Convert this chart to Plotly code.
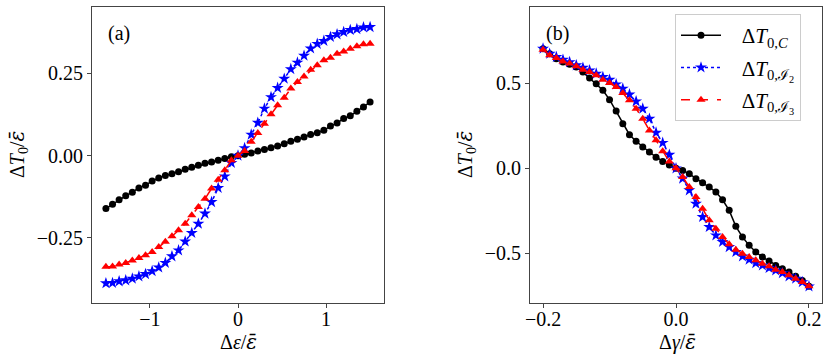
import numpy as np
import plotly.graph_objects as go
from plotly.subplots import make_subplots

# x grids
d_eps = np.linspace(-1.5, 1.5, 41)
d_gamma = np.linspace(-0.2, 0.2, 41)

# panel (a): dT0/eps vs d_eps
a_C = [-0.161, -0.148, -0.134, -0.122, -0.111, -0.098, -0.090, -0.077, -0.068, -0.060,
       -0.055, -0.049, -0.041, -0.035, -0.029, -0.023, -0.019, -0.014, -0.009, -0.003,
       0.000,
       0.004, 0.008, 0.014, 0.019, 0.024, 0.029, 0.036, 0.044, 0.050, 0.057,
       0.064, 0.070, 0.077, 0.090, 0.099, 0.113, 0.121, 0.135, 0.148, 0.163]
a_I2 = [-0.388, -0.387, -0.382, -0.379, -0.374, -0.367, -0.360, -0.351, -0.340, -0.326,
        -0.306, -0.288, -0.261, -0.235, -0.207, -0.176, -0.141, -0.098, -0.063, -0.022,
        0.000,
        0.023, 0.064, 0.100, 0.143, 0.178, 0.206, 0.234, 0.263, 0.283, 0.304,
        0.326, 0.340, 0.349, 0.361, 0.369, 0.376, 0.382, 0.385, 0.390, 0.391]
a_I3 = [-0.338, -0.337, -0.331, -0.326, -0.319, -0.311, -0.303, -0.293, -0.278, -0.262,
        -0.245, -0.227, -0.207, -0.181, -0.156, -0.131, -0.100, -0.073, -0.044, -0.014,
        0.000,
        0.014, 0.042, 0.069, 0.097, 0.126, 0.153, 0.176, 0.204, 0.224, 0.241,
        0.261, 0.275, 0.290, 0.298, 0.310, 0.317, 0.325, 0.333, 0.339, 0.340]

# panel (b): dT0/eps vs d_gamma
b_C = [0.704, 0.674, 0.645, 0.625, 0.612, 0.596, 0.566, 0.531, 0.498, 0.459,
       0.404, 0.337, 0.263, 0.198, 0.159, 0.125, 0.096, 0.066, 0.041, 0.020,
       0.000,
       -0.012, -0.032, -0.061, -0.085, -0.110, -0.139, -0.185, -0.247, -0.341, -0.404,
       -0.453, -0.492, -0.522, -0.545, -0.571, -0.590, -0.610, -0.635, -0.659, -0.694]
b_I2 = [0.704, 0.674, 0.655, 0.639, 0.625, 0.606, 0.592, 0.576, 0.557, 0.537,
        0.521, 0.494, 0.469, 0.435, 0.394, 0.351, 0.292, 0.210, 0.150, 0.080,
        0.000,
        -0.060, -0.129, -0.208, -0.286, -0.345, -0.394, -0.433, -0.463, -0.492, -0.518,
        -0.537, -0.557, -0.571, -0.586, -0.600, -0.616, -0.635, -0.649, -0.669, -0.694]
b_I3 = [0.698, 0.665, 0.649, 0.629, 0.616, 0.600, 0.580, 0.566, 0.547, 0.521,
        0.502, 0.478, 0.443, 0.400, 0.351, 0.292, 0.223, 0.165, 0.100, 0.040,
        0.000,
        -0.051, -0.110, -0.169, -0.237, -0.306, -0.355, -0.404, -0.447, -0.479, -0.502,
        -0.522, -0.541, -0.561, -0.576, -0.596, -0.610, -0.629, -0.649, -0.669, -0.694]

SP = "\u00a0\u00a0\u00a0"
names = [SP + "Δ<i>T</i><sub>0,<i>C</i></sub>",
         SP + "Δ<i>T</i><sub>0,ℐ<sub>2</sub></sub>",
         SP + "Δ<i>T</i><sub>0,ℐ<sub>3</sub></sub>"]

FONT = "Liberation Serif"
EPSBAR = "<span style='font-family:DejaVu Serif'><i>ε̄</i></span>"

fig = make_subplots(rows=1, cols=2)

styles = [
    dict(color="black", dash="solid", symbol="circle", size=7),
    dict(color="#0000ff", dash="dot", symbol="star", size=9),
    dict(color="#ff0000", dash="dash", symbol="triangle-up", size=8),
]

for ys, st in zip([a_C, a_I2, a_I3], styles):
    fig.add_trace(go.Scatter(x=d_eps, y=ys, mode="lines+markers", showlegend=False,
                             line=dict(color=st["color"], dash=st["dash"], width=1.5),
                             marker=dict(symbol=st["symbol"], size=st["size"], color=st["color"],
                                         line=dict(width=0))), row=1, col=1)

for i, (ys, st, nm) in enumerate(zip([b_C, b_I2, b_I3], styles, names)):
    fig.add_trace(go.Scatter(x=d_gamma, y=ys, mode="lines+markers", name=nm,
                             legendgroup="g%d" % i,
                             line=dict(color=st["color"], dash=st["dash"], width=1.5),
                             marker=dict(symbol=st["symbol"], size=st["size"], color=st["color"],
                                         line=dict(width=0))), row=1, col=2)

ax_common = dict(showline=True, mirror=True, linecolor="#444", linewidth=1,
                 ticks="outside", ticklen=4, tickwidth=1, tickcolor="#444",
                 showgrid=False, zeroline=False, automargin=False,
                 tickfont=dict(family=FONT, size=20, color="black"))

fig.update_xaxes(ticklabelstandoff=-6, **ax_common)
fig.update_yaxes(**ax_common)

fig.update_layout(
    xaxis=dict(domain=[92 / 830, 384 / 830], range=[-1.658, 1.658], tickvals=[-1, 0, 1]),
    yaxis=dict(domain=[1 - 303 / 364, 1 - 7 / 364], range=[-0.448, 0.452],
               tickvals=[-0.25, 0, 0.25], tickformat=".2f"),
    xaxis2=dict(domain=[530 / 830, 822 / 830], range=[-0.2196, 0.2196],
                tickvals=[-0.2, 0, 0.2], tickformat=".1f"),
    yaxis2=dict(domain=[1 - 303 / 364, 1 - 7 / 364], range=[-0.792, 0.949],
                tickvals=[-0.5, 0, 0.5], tickformat=".1f"),
)

ann = dict(xref="paper", yref="paper", showarrow=False, xanchor="center", yanchor="middle",
           font=dict(family=FONT, size=20, color="black"))
fig.add_annotation(x=238 / 830, y=1 - 342 / 364, text="Δ<i>ε</i>/" + EPSBAR, **ann)
fig.add_annotation(x=677 / 830, y=1 - 342 / 364, text="Δ<i>γ</i>/" + EPSBAR, **ann)
fig.add_annotation(x=18 / 830, y=1 - 155 / 364, text="Δ<i>T</i><sub>0</sub>/" + EPSBAR,
                   textangle=-90, **ann)
fig.add_annotation(x=466 / 830, y=1 - 155 / 364, text="Δ<i>T</i><sub>0</sub>/" + EPSBAR,
                   textangle=-90, **ann)
fig.add_annotation(x=119 / 830, y=1 - 33 / 364, text="(a)", **ann)
fig.add_annotation(x=557 / 830, y=1 - 33 / 364, text="(b)", **ann)

fig.update_layout(
    width=830, height=364,
    margin=dict(l=0, r=0, t=0, b=0, pad=0),
    plot_bgcolor="white", paper_bgcolor="white",
    font=dict(family=FONT, size=20, color="black"),
    legend=dict(x=675 / 830, y=1 - 14 / 364, xanchor="left", yanchor="top",
                bgcolor="white", bordercolor="#cccccc", borderwidth=1,
                font=dict(family=FONT, size=21), tracegroupgap=2, itemwidth=40),
)

fig.write_html("out.html", config={"displayModeBar": False},
               post_script="document.body.style.margin='0';")
